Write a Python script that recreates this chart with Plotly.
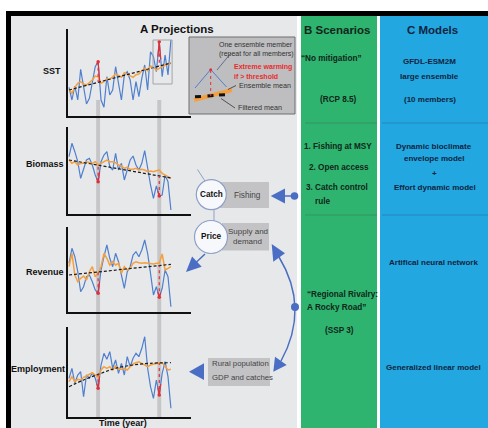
import numpy as np
import plotly.graph_objects as go

W, H = 488, 428
FONT = "Liberation Sans, Arial, sans-serif"

# ---------------------------------------------------------------- data
years = list(range(2030, 2101, 2))          # 36 time steps
event_years = [2050, 2092]                  # extreme years highlighted

sst_member = [28.7, 16, 30, 16, 46.7, 28.7, 12, 17.7, 34.3, 49.3, 54.3, 16,
              8.7, 39.3, 21, 26, 49.3, 34.3, 16, 41, 44.3, 36, 16, 34.3,
              19.3, 37.7, 51, 26, 64.3, 59.3, 44.3, 74.3, 39.3, 61, 41, 76]
sst_filtered = [26.7, 22.7, 28.7, 32.7, 34.3, 32, 31, 33.3, 36, 40, 39.3, 32.7,
                34.3, 37.3, 36.7, 39.3, 42, 40.7, 38.7, 43.3, 42, 40, 38.7, 41.3,
                42, 45.3, 47.7, 45.3, 50, 48.7, 46, 47.7, 49.3, 51, 51.7, 52.7]
sst_mean_years = [2030, 2100]
sst_mean = [26, 53]

bio_member = [57.3, 70.7, 62.3, 52.3, 35.7, 45.7, 54, 55.7, 49, 39, 32.3, 52.3,
              59, 62.3, 47.3, 44, 60.7, 44, 50.7, 34, 44, 54, 58, 49,
              44, 50.7, 63.3, 44, 29, 15.7, 28, 18, 19, 39, 32.3, 4]
bio_filtered = [54, 50.7, 52.3, 49, 50.7, 50.7, 52.3, 51.3, 50.7, 52.3, 49, 50.7,
                52.3, 54, 52.3, 52.3, 51.3, 49, 48, 45.7, 46.7, 44.7, 44.7, 45.7,
                44, 44.7, 44, 42.3, 43, 42.3, 43.3, 44, 40.7, 39, 37.3, 35.7]
bio_mean_years = [2030, 2100]
bio_mean = [54, 36]

rev_member = [48.7, 63.7, 55.3, 40.3, 20.3, 25.3, 35.3, 37, 30.3, 22, 18.7, 42,
              55.3, 67, 53.7, 45.3, 58.7, 50.3, 37, 23.7, 40.3, 45.3, 57, 60.3,
              55.3, 62, 72, 58.7, 38.7, 17, 25.3, 14.7, 23.7, 42, 35.3, 5.3]
rev_filtered = [45.3, 58.7, 37, 30.3, 33.7, 36, 32, 40.3, 45.3, 35.3, 38.7, 45.3,
                58.7, 53.7, 47, 50.3, 47, 48.7, 38.7, 45.3, 42, 43.7, 48.7, 50.3,
                49.3, 48.7, 49.3, 48.7, 48, 48, 48.7, 48.7, 58, 42, 43.7, 45.3]
rev_mean_years = [2030, 2100]
rev_mean = [37, 47.7]

emp_member = [38.7, 48.7, 33.7, 42, 45.3, 20.3, 42, 38.7, 44.3, 38.7, 28.7, 52,
              63.7, 57.7, 65.3, 48.7, 57, 43.7, 53.7, 42, 60.3, 50.3, 58.7, 63.7,
              60.3, 68.7, 80.3, 48.7, 30.3, 18.7, 37, 22, 43.7, 55.3, 40.3, 8.7]
emp_filtered = [35.3, 40.3, 35.3, 37.7, 37, 39.7, 41, 43, 44.3, 42, 39.7, 47,
                50.3, 48.7, 50.3, 47, 51, 47.7, 47.7, 48.7, 47, 50.3, 53, 54.3,
                55.3, 53.7, 52, 50.3, 52, 53, 53.7, 54.3, 54.3, 50.3, 47, 47.7]
emp_mean_years = [2030, 2040, 2052, 2062, 2074, 2086, 2100]
emp_mean = [30.3, 37, 43.7, 48.7, 52, 53.7, 54.3]

row_labels = ["SST", "Biomass", "Revenue", "Employment"]

# ---------------------------------------------------------------- helpers
def px(x):
    return x / W


def py(y):
    return 1 - y / H


def pth(points, close=False):
    s = "M " + " L ".join(f"{px(a):.5f},{py(b):.5f}" for a, b in points)
    return s + (" Z" if close else "")


BLUE = "#4f7fcf"
ORANGE = "#f4a040"
RED = "#e0303a"
ARROW = "#4a6ec4"
CIRCLE_LINE = "#8ea0c8"

shapes = []
annotations = []


def rect(x0, y0, x1, y1, fill, line=None, lw=0, layer="below"):
    shapes.append(dict(type="rect", xref="paper", yref="paper",
                       x0=px(x0), x1=px(x1), y0=py(y1), y1=py(y0),
                       fillcolor=fill, line=dict(color=line or fill, width=lw),
                       layer=layer))


def seg(points, color, width, dash="solid", close=False, fill=None):
    shapes.append(dict(type="path", xref="paper", yref="paper",
                       path=pth(points, close), layer="below",
                       line=dict(color=color, width=width, dash=dash),
                       fillcolor=fill if fill else "rgba(0,0,0,0)"))


def circle(cx, cy, r, fill, line, lw):
    shapes.append(dict(type="circle", xref="paper", yref="paper",
                       x0=px(cx - r), x1=px(cx + r), y0=py(cy + r), y1=py(cy - r),
                       fillcolor=fill, line=dict(color=line, width=lw), layer="below"))


def text(x, y, s, size, color="#111", bold=False, anchor="center"):
    annotations.append(dict(xref="paper", yref="paper", x=px(x), y=py(y),
                            text=f"<b>{s}</b>" if bold else s, showarrow=False,
                            xanchor=anchor, yanchor="middle",
                            font=dict(family=FONT, size=size, color=color)))


# ---------------------------------------------------------------- panels
rect(6, 11, 488, 16, "#000000")               # frame top
rect(6, 11, 11, 428, "#000000")               # frame left
rect(11, 16, 297, 428, "#e7e8ea")             # A
rect(301, 16, 377, 428, "#2eb46e")            # B
rect(380, 16, 488, 428, "#22a7e0")            # C
for yy in (123, 215):
    seg([(305, yy), (377, yy)], "rgba(70,90,80,0.45)", 0.8)
    seg([(382, yy), (488, yy)], "rgba(40,80,120,0.45)", 0.8)

# ---------------------------------------------------------------- time series
x_dom = [px(68), px(191)]
x_rng = [2029.3, 2113.8]
rows = [
    (sst_member, sst_filtered, sst_mean_years, sst_mean, 29, 116, 87),
    (bio_member, bio_filtered, bio_mean_years, bio_mean, 127, 214, 87),
    (rev_member, rev_filtered, rev_mean_years, rev_mean, 227, 312, 85),
    (emp_member, emp_filtered, emp_mean_years, emp_mean, 327, 417, 90),
]
label_pos = [(63, 71), (66, 164), (66, 272), (67, 369)]

# grey bars marking the extreme years, across all rows
for ey in event_years:
    shapes.append(dict(type="rect", xref="x4", yref="paper",
                       x0=ey - 1.35, x1=ey + 1.35, y0=py(417), y1=py(100),
                       fillcolor="#c6c6c8", line=dict(width=0), layer="below"))

fig = go.Figure()
layout_axes = {}
for k, (member, filt, myears, mvals, top, bot, hgt) in enumerate(rows):
    n = "" if k == 0 else str(k + 1)
    xa, ya = "x" + n, "y" + n
    common = dict(showgrid=False, zeroline=False, showticklabels=False, ticks="",
                  showline=True, linecolor="#111111", linewidth=1.5, fixedrange=True)
    layout_axes["xaxis" + n] = dict(domain=x_dom, range=x_rng, anchor=ya, **common)
    layout_axes["yaxis" + n] = dict(domain=[py(bot), py(top)], range=[0, hgt],
                                    anchor=xa, **common)

    fig.add_trace(go.Scatter(x=years, y=member, mode="lines", xaxis=xa, yaxis=ya,
                             line=dict(color=BLUE, width=1.2), hoverinfo="skip"))
    fig.add_trace(go.Scatter(x=years, y=filt, mode="lines", xaxis=xa, yaxis=ya,
                             line=dict(color=ORANGE, width=1.5), hoverinfo="skip"))
    fig.add_trace(go.Scatter(x=myears, y=mvals, mode="lines", xaxis=xa, yaxis=ya,
                             line=dict(color="#1a1a1a", width=1.2, dash="3px,2px",
                                       shape="spline"), hoverinfo="skip"))
    for ey in event_years:
        i = years.index(ey)
        xs = [(years[i - 1] + years[i]) / 2, years[i], (years[i] + years[i + 1]) / 2]
        ys = [(member[i - 1] + member[i]) / 2, member[i], (member[i] + member[i + 1]) / 2]
        fig.add_trace(go.Scatter(x=xs, y=ys, mode="lines", xaxis=xa, yaxis=ya,
                                 line=dict(color=RED, width=1.2), hoverinfo="skip"))
        m = float(np.interp(ey, myears, mvals))
        fig.add_trace(go.Scatter(x=[ey, ey], y=[member[i], m], mode="lines",
                                 xaxis=xa, yaxis=ya, hoverinfo="skip",
                                 line=dict(color=RED, width=1.2, dash="dot")))
        fig.add_trace(go.Scatter(x=[ey], y=[member[i]], mode="markers",
                                 xaxis=xa, yaxis=ya, hoverinfo="skip",
                                 marker=dict(color=RED, size=3.5)))
    lx, ly = label_pos[k]
    text(lx, ly, row_labels[k], 9, "#111", True, "right")

# box around the last extreme in the SST row
shapes.append(dict(type="rect", xref="x", yref="y", x0=2087.7, x1=2100.8, y0=32, y1=76,
                   line=dict(color="#a4a4a8", width=1), fillcolor="rgba(0,0,0,0)",
                   layer="above"))

text(177, 29, "A Projections", 11.5, "#111", True)
text(123, 423, "Time (year)", 9, "#111", True)

# ---------------------------------------------------------------- inset key
rect(189, 37, 295, 114, "#bebec0", "#6f6f6f", 1)
seg([(194, 100), (232, 90)], ORANGE, 4)
for a, b in ((195, 201), (207.5, 213.5), (219, 225)):
    seg([(a, 96.8 - (a - 195) * 0.07), (b, 96.8 - (b - 195) * 0.07)], "#111", 3)
seg([(195, 88), (210.7, 69.5), (226.5, 87)], BLUE, 1)
seg([(210.7, 70), (210.7, 96)], RED, 1, "dot")
circle(210.7, 69.8, 1.5, RED, RED, 0)
seg([(231, 53), (217, 70)], "#4a5a80", 0.8)
seg([(228, 89.5), (236, 85.5)], "#333", 0.8)
seg([(221, 98.5), (235, 108)], "#333", 0.8)
text(256, 44, "One ensemble member", 7, "#333")
text(256, 53.5, "(repeat for all members)", 7, "#333")
text(231.5, 66.5, "Extreme warming", 7, "#e82c2c", True, "left")
text(231.5, 76.5, "if &gt; threshold", 7, "#e82c2c", True, "left")
text(236.5, 85, "Ensemble mean", 7.2, "#333", False, "left")
text(236, 108, "Filtered mean", 7.2, "#333", False, "left")

# ---------------------------------------------------------------- drivers
rect(220, 182, 269, 208, "#c3c3c5")
rect(222, 223, 269, 250.5, "#c3c3c5")
rect(208, 358, 270, 386, "#c3c3c5")
seg([(197.5, 169.5), (205, 181)], CIRCLE_LINE, 1)
seg([(214, 209), (214, 221)], CIRCLE_LINE, 1)
circle(211.3, 194.6, 15, "#f7f8fb", CIRCLE_LINE, 1.2)
circle(211, 237, 16.5, "#f7f8fb", CIRCLE_LINE, 1.2)
text(211.8, 194.5, "Catch", 8.2, "#111", True)
text(211.3, 236.5, "Price", 8.2, "#111", True)
text(247.5, 195.5, "Fishing", 8.2, "#444")
text(248, 231, "Supply and", 8, "#444")
text(247.5, 241.7, "demand", 8, "#444")
text(210, 363.5, "Rural population", 7.8, "#444", False, "left")
text(210, 377.5, "GDP and catches", 7.8, "#444", False, "left")

# fishing arrow
seg([(284, 196), (294, 196)], ARROW, 1.5)
seg([(270.7, 196), (285, 188.6), (285, 203.4)], ARROW, 0, close=True, fill=ARROW)
circle(294.5, 196, 3.8, ARROW, ARROW, 0)
# price arrow
seg([(205, 254), (196, 262.5)], ARROW, 1.5)
seg([(186, 272), (201.7, 266.8), (192.1, 256.6)], ARROW, 0, close=True, fill=ARROW)
# socio-economic arc
shapes.append(dict(type="path", xref="paper", yref="paper", layer="below",
                   path=f"M {px(279):.5f},{py(257):.5f} Q {px(310):.5f},{py(308):.5f} "
                        f"{px(281):.5f},{py(361):.5f}",
                   line=dict(color=ARROW, width=1.5)))
seg([(271.7, 244), (273.3, 261.7), (285, 253.3)], ARROW, 0, close=True, fill=ARROW)
seg([(273.3, 371.7), (275, 356.7), (286.7, 365)], ARROW, 0, close=True, fill=ARROW)
circle(295, 307, 4, ARROW, ARROW, 0)
# employment arrow
seg([(189, 371.7), (204, 363.3), (204, 380)], ARROW, 0, close=True, fill=ARROW)

# ---------------------------------------------------------------- B & C text
B = "#10261a"
text(337, 30, "B Scenarios", 11.5, B, True)
text(331, 59, "“No mitigation”", 8.2, B, True)
text(338, 99.5, "(RCP 8.5)", 8.2, B, True)
text(302, 146, "1. Fishing at MSY", 8.2, B, True, "left")
text(306.5, 167, "2. Open access", 8.2, B, True, "left")
text(304, 188, "3. Catch control", 8.2, B, True, "left")
text(313, 201.5, "rule", 8.2, B, True, "left")
text(305, 294.5, "“Regional Rivalry:", 8.2, B, True, "left")
text(305, 307, "A Rocky Road”", 8.2, B, True, "left")
text(339, 330, "(SSP 3)", 8.2, B, True)

C = "#0f2440"
text(432.5, 30, "C Models", 11.5, C, True)
text(429, 61.5, "GFDL-ESM2M", 8, C, True)
text(429, 76, "large ensemble", 8, C, True)
text(430, 99.5, "(10 members)", 8, C, True)
text(434, 146, "Dynamic bioclimate", 8, C, True)
text(434, 158.5, "envelope model", 8, C, True)
text(434, 173, "+", 8, C, True)
text(435, 187, "Effort dynamic model", 8, C, True)
text(433, 262, "Artifical neural network", 8, C, True)
text(433.7, 367.3, "Generalized linear model", 8, C, True)

fig.update_layout(
    width=W, height=H, margin=dict(l=0, r=0, t=0, b=0),
    paper_bgcolor="#ffffff", plot_bgcolor="rgba(0,0,0,0)",
    showlegend=False, shapes=shapes, annotations=annotations,
    font=dict(family=FONT), **layout_axes,
)
fig.write_html("out.html", config={"displayModeBar": False})
